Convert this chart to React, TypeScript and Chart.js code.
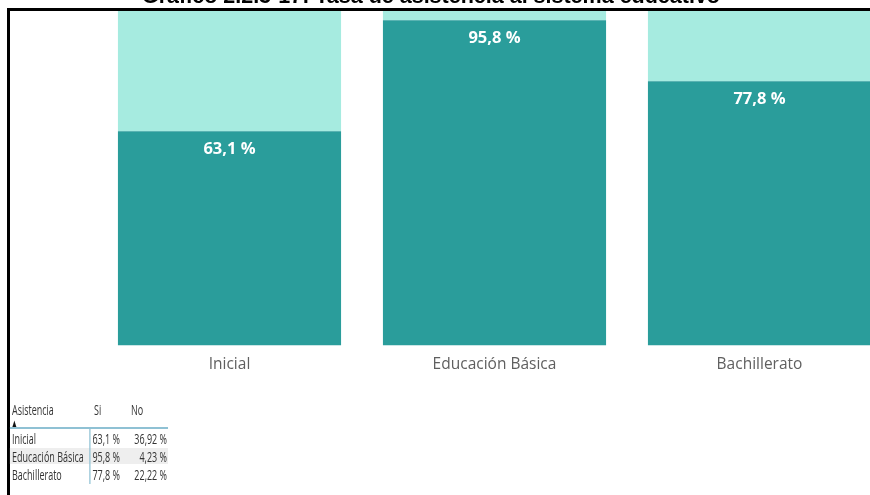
import React, { useEffect, useRef } from "react";
import { Chart, registerables } from "chart.js";

Chart.register(...registerables);

const titleText = "Gráfico 2.2.3-17: Tasa de asistencia al sistema educativo";
const categories = ["Inicial", "Educación Básica", "Bachillerato"];
const siValues = [63.1, 95.8, 77.8];
const noValues = [36.92, 4.23, 22.22];
const tableHeaders = ["Asistencia", "Si", "No"];

const DARK = "#2a9d9b";
const LIGHT = "#a6ebe0";

const fmt = (v: number, d: number) => v.toFixed(d).replace(".", ",") + " %";

const SX = 0.62; // horizontal condensing of the small table
const ux = (x: number) => x / SX;

export default function App() {
  const ref = useRef<HTMLCanvasElement | null>(null);

  useEffect(() => {
    document.body.style.margin = "0";
    const labelPlugin = {
      id: "barLabels",
      afterDatasetsDraw(chart: any) {
        const ctx = chart.ctx;
        const meta = chart.getDatasetMeta(0);
        ctx.save();
        ctx.fillStyle = "#ffffff";
        ctx.font = 'bold 16.5px "Open Sans"';
        ctx.textAlign = "center";
        ctx.textBaseline = "top";
        meta.data.forEach((el: any, i: number) => {
          ctx.fillText(fmt(siValues[i], 1), el.x, el.y + 10);
        });
        ctx.restore();
      },
    };
    const chart = new Chart(ref.current as HTMLCanvasElement, {
      type: "bar",
      data: {
        labels: categories,
        datasets: [
          { label: "Si", data: siValues, backgroundColor: DARK, borderWidth: 0 },
          { label: "No", data: noValues, backgroundColor: LIGHT, borderWidth: 0 },
        ],
      },
      options: {
        responsive: false,
        animation: false,
        layout: { padding: { left: 97, right: 8, top: 6, bottom: 111 } },
        datasets: { bar: { barPercentage: 1, categoryPercentage: 0.842 } },
        plugins: { legend: { display: false }, tooltip: { enabled: false } },
        scales: {
          x: {
            stacked: true,
            grid: { display: false, drawTicks: false },
            border: { display: false },
            ticks: { color: "#5f5f5f", font: { family: "Open Sans", size: 15.5 }, padding: 10 },
          },
          y: { stacked: true, display: false, min: 0, max: 100 },
        },
      },
      plugins: [labelPlugin],
    });
    return () => chart.destroy();
  }, []);

  const rowCenters = [439, 457, 475];
  const textStyle: React.CSSProperties = {
    position: "absolute",
    fontFamily: '"Open Sans", sans-serif',
    fontSize: "14.5px",
    lineHeight: "16px",
    color: "#333333",
    whiteSpace: "nowrap",
  };

  return (
    <div style={{ position: "relative", width: 870, height: 495, overflow: "hidden", background: "#ffffff" }}>
      <canvas ref={ref} width={900} height={495} style={{ position: "absolute", left: 0, top: 0 }} />
      <div style={{ position: "absolute", left: 0, top: 0, width: 870, height: 8, background: "#ffffff" }} />
      <div
        style={{
          position: "absolute",
          left: 0,
          top: -15.5,
          width: 862,
          textAlign: "center",
          fontFamily: '"Liberation Sans", Arial, sans-serif',
          fontWeight: "bold",
          fontSize: "21.5px",
          lineHeight: "22px",
          color: "#000000",
          whiteSpace: "nowrap",
        }}
      >
        {titleText}
      </div>
      <div
        style={{
          position: "absolute",
          left: 7,
          top: 8,
          width: 880,
          height: 500,
          borderTop: "3px solid #000000",
          borderLeft: "3px solid #000000",
          boxSizing: "border-box",
        }}
      />
      <div
        style={{
          position: "absolute",
          left: 0,
          top: 0,
          width: ux(200),
          height: 495,
          transform: `scaleX(${SX})`,
          transformOrigin: "0 0",
        }}
      >
        <div style={{ position: "absolute", left: ux(10), top: 448, width: ux(158), height: 16, background: "#eeeeee" }} />
        <div style={{ ...textStyle, left: ux(12), top: 410 - 8 }}>{tableHeaders[0]}</div>
        <div style={{ ...textStyle, left: ux(94), top: 410 - 8 }}>{tableHeaders[1]}</div>
        <div style={{ ...textStyle, left: ux(131), top: 410 - 8 }}>{tableHeaders[2]}</div>
        <div style={{ ...textStyle, left: ux(11), top: 418, fontSize: "11px", lineHeight: "10px", color: "#111111" }}>▲</div>
        <div style={{ position: "absolute", left: ux(10), top: 427, width: ux(158), height: 2, background: "#8fc1d4" }} />
        <div style={{ position: "absolute", left: ux(89), top: 428, width: ux(1.5), height: 56, background: "#8fc1d4" }} />
        {categories.map((c, i) => (
          <React.Fragment key={c}>
            <div style={{ ...textStyle, left: ux(12), top: rowCenters[i] - 8 }}>{c}</div>
            <div style={{ ...textStyle, right: ux(200) - ux(120), top: rowCenters[i] - 8 }}>{fmt(siValues[i], 1)}</div>
            <div style={{ ...textStyle, right: ux(200) - ux(167), top: rowCenters[i] - 8 }}>{fmt(noValues[i], 2)}</div>
          </React.Fragment>
        ))}
      </div>
    </div>
  );
}
